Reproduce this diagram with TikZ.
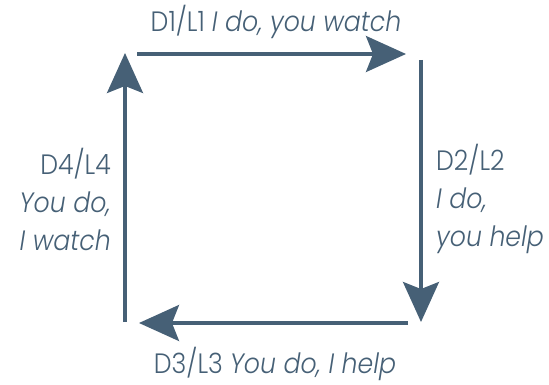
\documentclass[tikz,border=0pt]{standalone}
\usepackage{fontspec}
\setmainfont{Poppins}[UprightFont=* Light, ItalicFont=* Light Italic, FakeStretch=0.9]
\usetikzlibrary{arrows.meta}
\definecolor{slate}{RGB}{70,96,118}
\begin{document}
\begin{tikzpicture}[x=1pt, y=-1pt,
	cycle/.style = {draw=slate, line width=3.2pt, -{Stealth[length=40pt, width=36pt, inset=7pt]}},
	lbl/.style = {text=slate, font=\fontsize{28}{38}\selectfont, inner sep=0pt}]
	\useasboundingbox (0,0) rectangle (549,385);
	% corners of the loop
	\coordinate (d1s) at (137,54);
	\coordinate (d1e) at (406,54);
	\coordinate (d2s) at (421,60);
	\coordinate (d2e) at (421,322);
	\coordinate (d3s) at (408,323);
	\coordinate (d3e) at (139,323);
	\coordinate (d4s) at (125,322);
	\coordinate (d4e) at (125,53);
	\draw[cycle] (d1s) -- (d1e);
	\draw[cycle] (d2s) -- (d2e);
	\draw[cycle] (d3s) -- (d3e);
	\draw[cycle] (d4s) -- (d4e);
	% labels
	\node[lbl] (l1) at (276,22) {D1/L1 \textit{I do, you watch}};
	\node[lbl, anchor=west, align=left] (l2) at (436,199) {D2/L2\\\textit{I do,}\\\textit{you help}};
	\node[lbl] (l3) at (275,364) {D3/L3 \textit{You do, I help}};
	\node[lbl, anchor=east, align=right] (l4) at (111,199) {D4/L4\\\textit{You do,}\\\textit{I watch}};
\end{tikzpicture}
\end{document}
